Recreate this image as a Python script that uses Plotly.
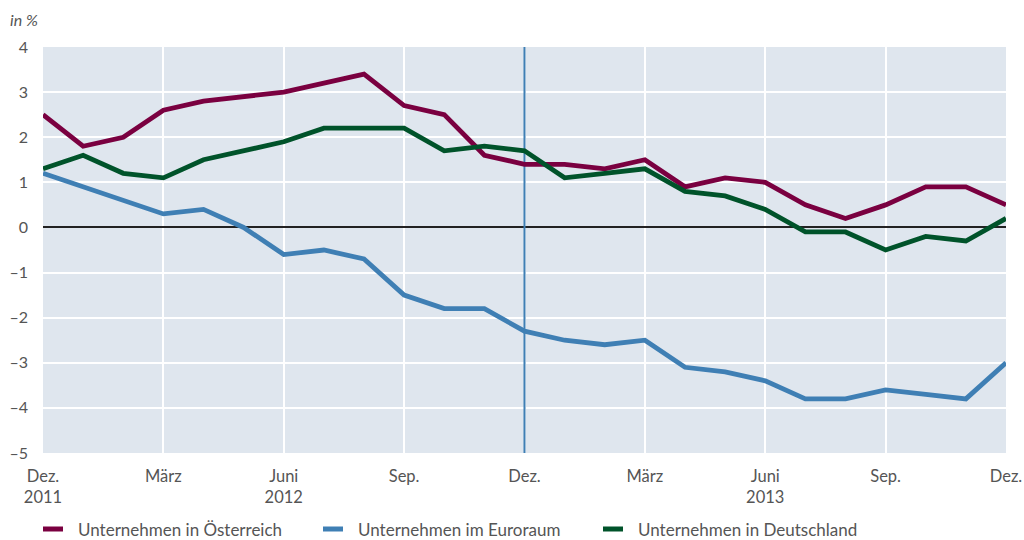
import plotly.graph_objects as go

months = list(range(25))
tick_vals = [0, 3, 6, 9, 12, 15, 18, 21, 24]
tick_text = ["Dez.<br>2011", "März", "Juni<br>2012", "Sep.", "Dez.", "März", "Juni<br>2013", "Sep.", "Dez."]

austria = [2.5, 1.8, 2.0, 2.6, 2.8, 2.9, 3.0, 3.2, 3.4, 2.7, 2.5, 1.6, 1.4,
           1.4, 1.3, 1.5, 0.9, 1.1, 1.0, 0.5, 0.2, 0.5, 0.9, 0.9, 0.5]
euro = [1.2, 0.9, 0.6, 0.3, 0.4, 0.0, -0.6, -0.5, -0.7, -1.5, -1.8, -1.8, -2.3,
        -2.5, -2.6, -2.5, -3.1, -3.2, -3.4, -3.8, -3.8, -3.6, -3.7, -3.8, -3.0]
germany = [1.3, 1.6, 1.2, 1.1, 1.5, 1.7, 1.9, 2.2, 2.2, 2.2, 1.7, 1.8, 1.7,
           1.1, 1.2, 1.3, 0.8, 0.7, 0.4, -0.1, -0.1, -0.5, -0.2, -0.3, 0.2]

names = ["Unternehmen in Österreich", "Unternehmen im Euroraum", "Unternehmen in Deutschland"]
colors = ["#7a0040", "#3f7fb4", "#00532a"]
y_ticks = [4, 3, 2, 1, 0, -1, -2, -3, -4, -5]
y_text = [str(v) if v >= 0 else "\u2013" + str(-v) for v in y_ticks]

FONT = "Lato, Open Sans, sans-serif"
GREY = "#555555"

fig = go.Figure()
# vertical marker at Dez. 2012 (below the series lines)
fig.add_trace(go.Scatter(x=[months[12], months[12]], y=[min(y_ticks), max(y_ticks)],
                         mode="lines", line=dict(color="#3f7fb4", width=2),
                         showlegend=False, hoverinfo="skip"))
for name, vals, col in zip(names, [austria, euro, germany], colors):
    fig.add_trace(go.Scatter(x=months, y=vals, mode="lines", name=name,
                             line=dict(color=col, width=4.8), showlegend=False))

# manual legend
W, H = 963.0, 406.0
leg_y = (453 - 529) / H
annotations = [dict(text="<i>in %</i>", xref="paper", yref="paper",
                    x=(8 - 43) / W, y=(453 - 8) / H, xanchor="left", yanchor="top",
                    showarrow=False, font=dict(family=FONT, size=16, color=GREY))]
for i, (name, col) in enumerate(zip(names, colors)):
    x0 = i * 280
    fig.add_shape(type="line", xref="paper", yref="paper",
                  x0=x0 / W, x1=(x0 + 20) / W, y0=leg_y, y1=leg_y,
                  line=dict(color=col, width=5))
    annotations.append(dict(text=name, xref="paper", yref="paper",
                            x=(x0 + 33) / W, y=leg_y, xanchor="left", yanchor="middle",
                            showarrow=False, font=dict(family=FONT, size=17, color=GREY)))

fig.update_layout(
    width=1024, height=540,
    margin=dict(l=43, r=18, t=47, b=87),
    paper_bgcolor="white", plot_bgcolor="#dfe6ee",
    font=dict(family=FONT, size=16, color=GREY),
    showlegend=False,
    xaxis=dict(range=[0, 24], tickvals=tick_vals, ticktext=tick_text,
               tickfont=dict(size=16.5),
               showgrid=True, gridcolor="white", gridwidth=2,
               zeroline=False, showline=False, ticks="", ticklabelstandoff=11,
               automargin=False),
    yaxis=dict(range=[-5, 4], tickvals=y_ticks, ticktext=y_text,
               showgrid=True, gridcolor="white", gridwidth=2,
               zeroline=True, zerolinecolor="#222222", zerolinewidth=2,
               showline=False, ticks="", ticklabelstandoff=14,
               automargin=False),
    annotations=annotations,
)

fig.write_html("out.html", config={"displayModeBar": False},
               post_script="document.body.style.margin='0';document.body.style.overflow='hidden';")
